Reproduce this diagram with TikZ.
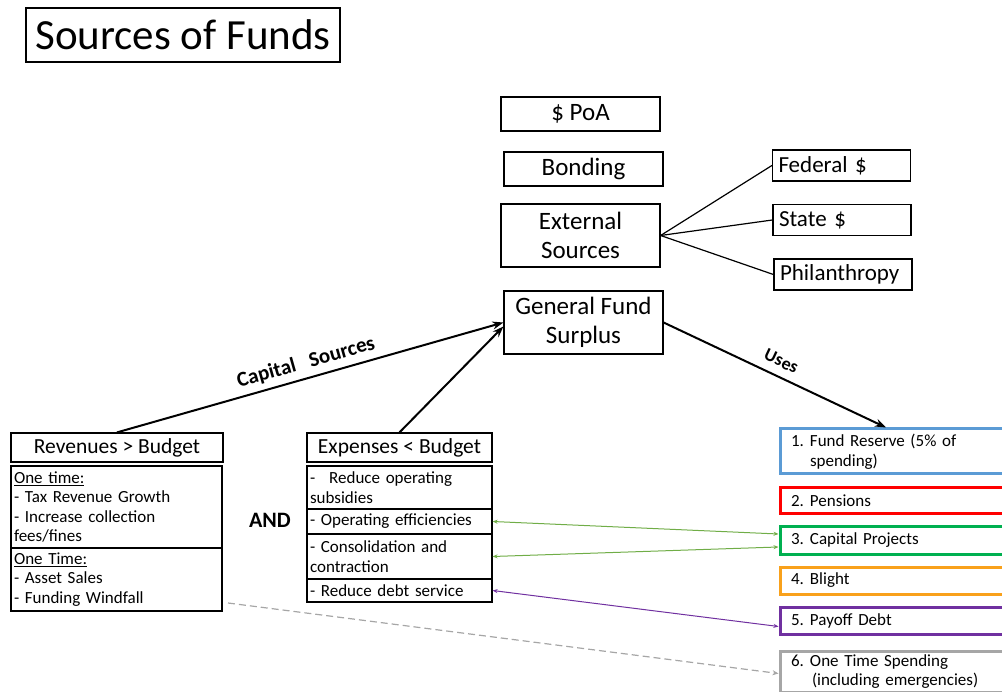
\documentclass[tikz,border=0pt]{standalone}
\usepackage{fontspec}
\setmainfont{Carlito}
\usepackage{xcolor}
\usepackage{tikz}
\usetikzlibrary{arrows.meta, positioning, calc}
\definecolor{Blue}  {HTML}{5B9BD5}
\definecolor{Red}   {HTML}{FF0000}
\definecolor{Green} {HTML}{00B050}
\definecolor{Orange}{HTML}{F9A11B}
\definecolor{Purple}{HTML}{7030A0}
\definecolor{Grey}  {HTML}{A6A6A6}
\definecolor{LGreen}{HTML}{70AD47}
\newcommand{\fsz}[2]{\fontsize{#1}{#2}\selectfont}
\newcommand{\numlbl}[1]{\makebox[19pt][l]{#1}}
\tikzset{
  titlebox/.style={draw, line width=1.2pt, inner sep=0pt, font=\fsz{43}{50},
                   minimum width=314pt, minimum height=54pt},
  midbox/.style={draw, line width=1.2pt, inner sep=0pt, align=center, font=\fsz{25}{29},
                 minimum width=159pt},
  extbox/.style={draw, line width=1.2pt, inner xsep=6pt, inner ysep=0pt, align=left,
                 font=\fsz{23}{27}, text width=126pt, minimum height=31pt},
  hdrbox/.style={draw, line width=1.2pt, inner sep=0pt, align=center, font=\fsz{21.5}{25},
                 minimum height=29pt},
  listbox/.style={draw, line width=1.2pt, inner xsep=3pt, inner ysep=0pt, align=left,
                  font=\fsz{17}{19.5}},
  usebox/.style={draw=#1, line width=3pt, anchor=north west, inner xsep=11pt, inner ysep=0pt,
                 align=left, font=\fsz{17}{19.5}, text width=218pt},
  arr/.style={-{Stealth[length=11pt,width=8pt]}, line width=2pt},
  link/.style={{Stealth[length=5pt,width=4pt]}-{Stealth[length=5pt,width=4pt]}, line width=1pt},
  lbl/.style={font=\fsz{21}{24}\bfseries, sloped, midway}
}

\begin{document}
\begin{tikzpicture}[x=1pt, y=-1pt]
  \useasboundingbox (0,0) rectangle (1002,692);
  \clip (0,0) rectangle (1002,692);

  \node[titlebox] (title) at (183,35) {Sources of Funds};

  \node[midbox, minimum height=34pt] (poa)  at (580.5,114)   {\$ PoA};
  \node[midbox, minimum height=34pt] (bond) at (583.5,169)   {Bonding};
  \node[midbox, minimum height=63pt] (ext)  at (580.5,235.5) {External\\Sources};
  \node[midbox, minimum height=63pt] (gfs)  at (583.5,322.5) {General Fund\\Surplus};

  \node[extbox] (fed)   at (841.5,165.5) {Federal \$};
  \node[extbox] (state) at (842,220)     {State \$};
  \node[extbox] (phil)  at (843,274.5)   {Philanthropy};
  \draw[line width=1.2pt] (ext.east) -- (fed.west);
  \draw[line width=1.2pt] (ext.east) -- (state.west);
  \draw[line width=1.2pt] (ext.east) -- (phil.west);

  \node[hdrbox, minimum width=212pt] (rev) at (117,447.5)   {Revenues > Budget};
  \node[listbox, text width=205pt, minimum height=82pt] (revA) at (116.5,507)
    {\underline{One time:}\\- Tax Revenue Growth\\- Increase collection\\fees/fines};
  \node[listbox, text width=205pt, minimum height=63pt] (revB) at (116.5,579.5)
    {\underline{One Time:}\\- Asset Sales\\- Funding Windfall};

  \node[font=\fsz{22}{26}\bfseries] (and) at (270,520) {AND};

  \node[hdrbox, minimum width=185pt] (exp) at (399.5,447.5) {Expenses < Budget};
  \node[listbox, text width=179pt, minimum height=43pt] (expA) at (399.5,487.5)
    {-\hspace{14pt}Reduce operating\\subsidies};
  \node[listbox, text width=179pt, minimum height=25pt] (expB) at (399.5,521.5)
    {- Operating efficiencies};
  \node[listbox, text width=179pt, minimum height=45pt] (expC) at (399.5,556.5)
    {- Consolidation and\\contraction};
  \node[listbox, text width=179pt, minimum height=23pt] (expD) at (399.5,590.5)
    {- Reduce debt service};

  \node[usebox=Blue,   minimum height=45pt] (fund) at (778.5,427.5)
    {\numlbl{1.}Fund Reserve (5\% of\\\hspace*{19pt}spending)};
  \node[usebox=Red,    minimum height=26pt] (pens) at (778.5,486.5) {\numlbl{2.}Pensions};
  \node[usebox=Green,  minimum height=27pt] (cap)  at (778.5,525.5) {\numlbl{3.}Capital Projects};
  \node[usebox=Orange, minimum height=27pt] (blt)  at (778.5,565.5) {\numlbl{4.}Blight};
  \node[usebox=Purple, minimum height=27pt] (pay)  at (778.5,605.5) {\numlbl{5.}Payoff Debt};
  \node[usebox=Grey,   minimum height=41pt] (one)  at (778.5,649.5)
    {\numlbl{6.}One Time Spending\\\hspace*{21pt}(including emergencies)};

  \draw[arr] (rev.north) -- node[lbl, above=2pt] {Capital\ \ \ Sources} (gfs.west);
  \draw[arr] (exp.north) -- ([yshift=-4pt]gfs.west);
  \draw[arr] (gfs.east) -- node[lbl, above=5pt, font=\fsz{18}{21}\bfseries] {Uses} ([xshift=-14pt]fund.north);

  \draw[link, LGreen] (expB.east) -- ([yshift=6.5pt]cap.west);
  \draw[link, LGreen] (expC.east) -- ([yshift=-6.5pt]cap.west);
  \draw[link, Purple] (expD.east) -- ([yshift=-6pt]pay.west);
  \coordinate (gstart) at (228,603);
  \draw[-{Stealth[length=6pt,width=5pt]}, Grey, line width=1.2pt, dash pattern=on 7pt off 4pt]
    (gstart) -- ([yshift=-2pt]one.west);
\end{tikzpicture}
\end{document}
